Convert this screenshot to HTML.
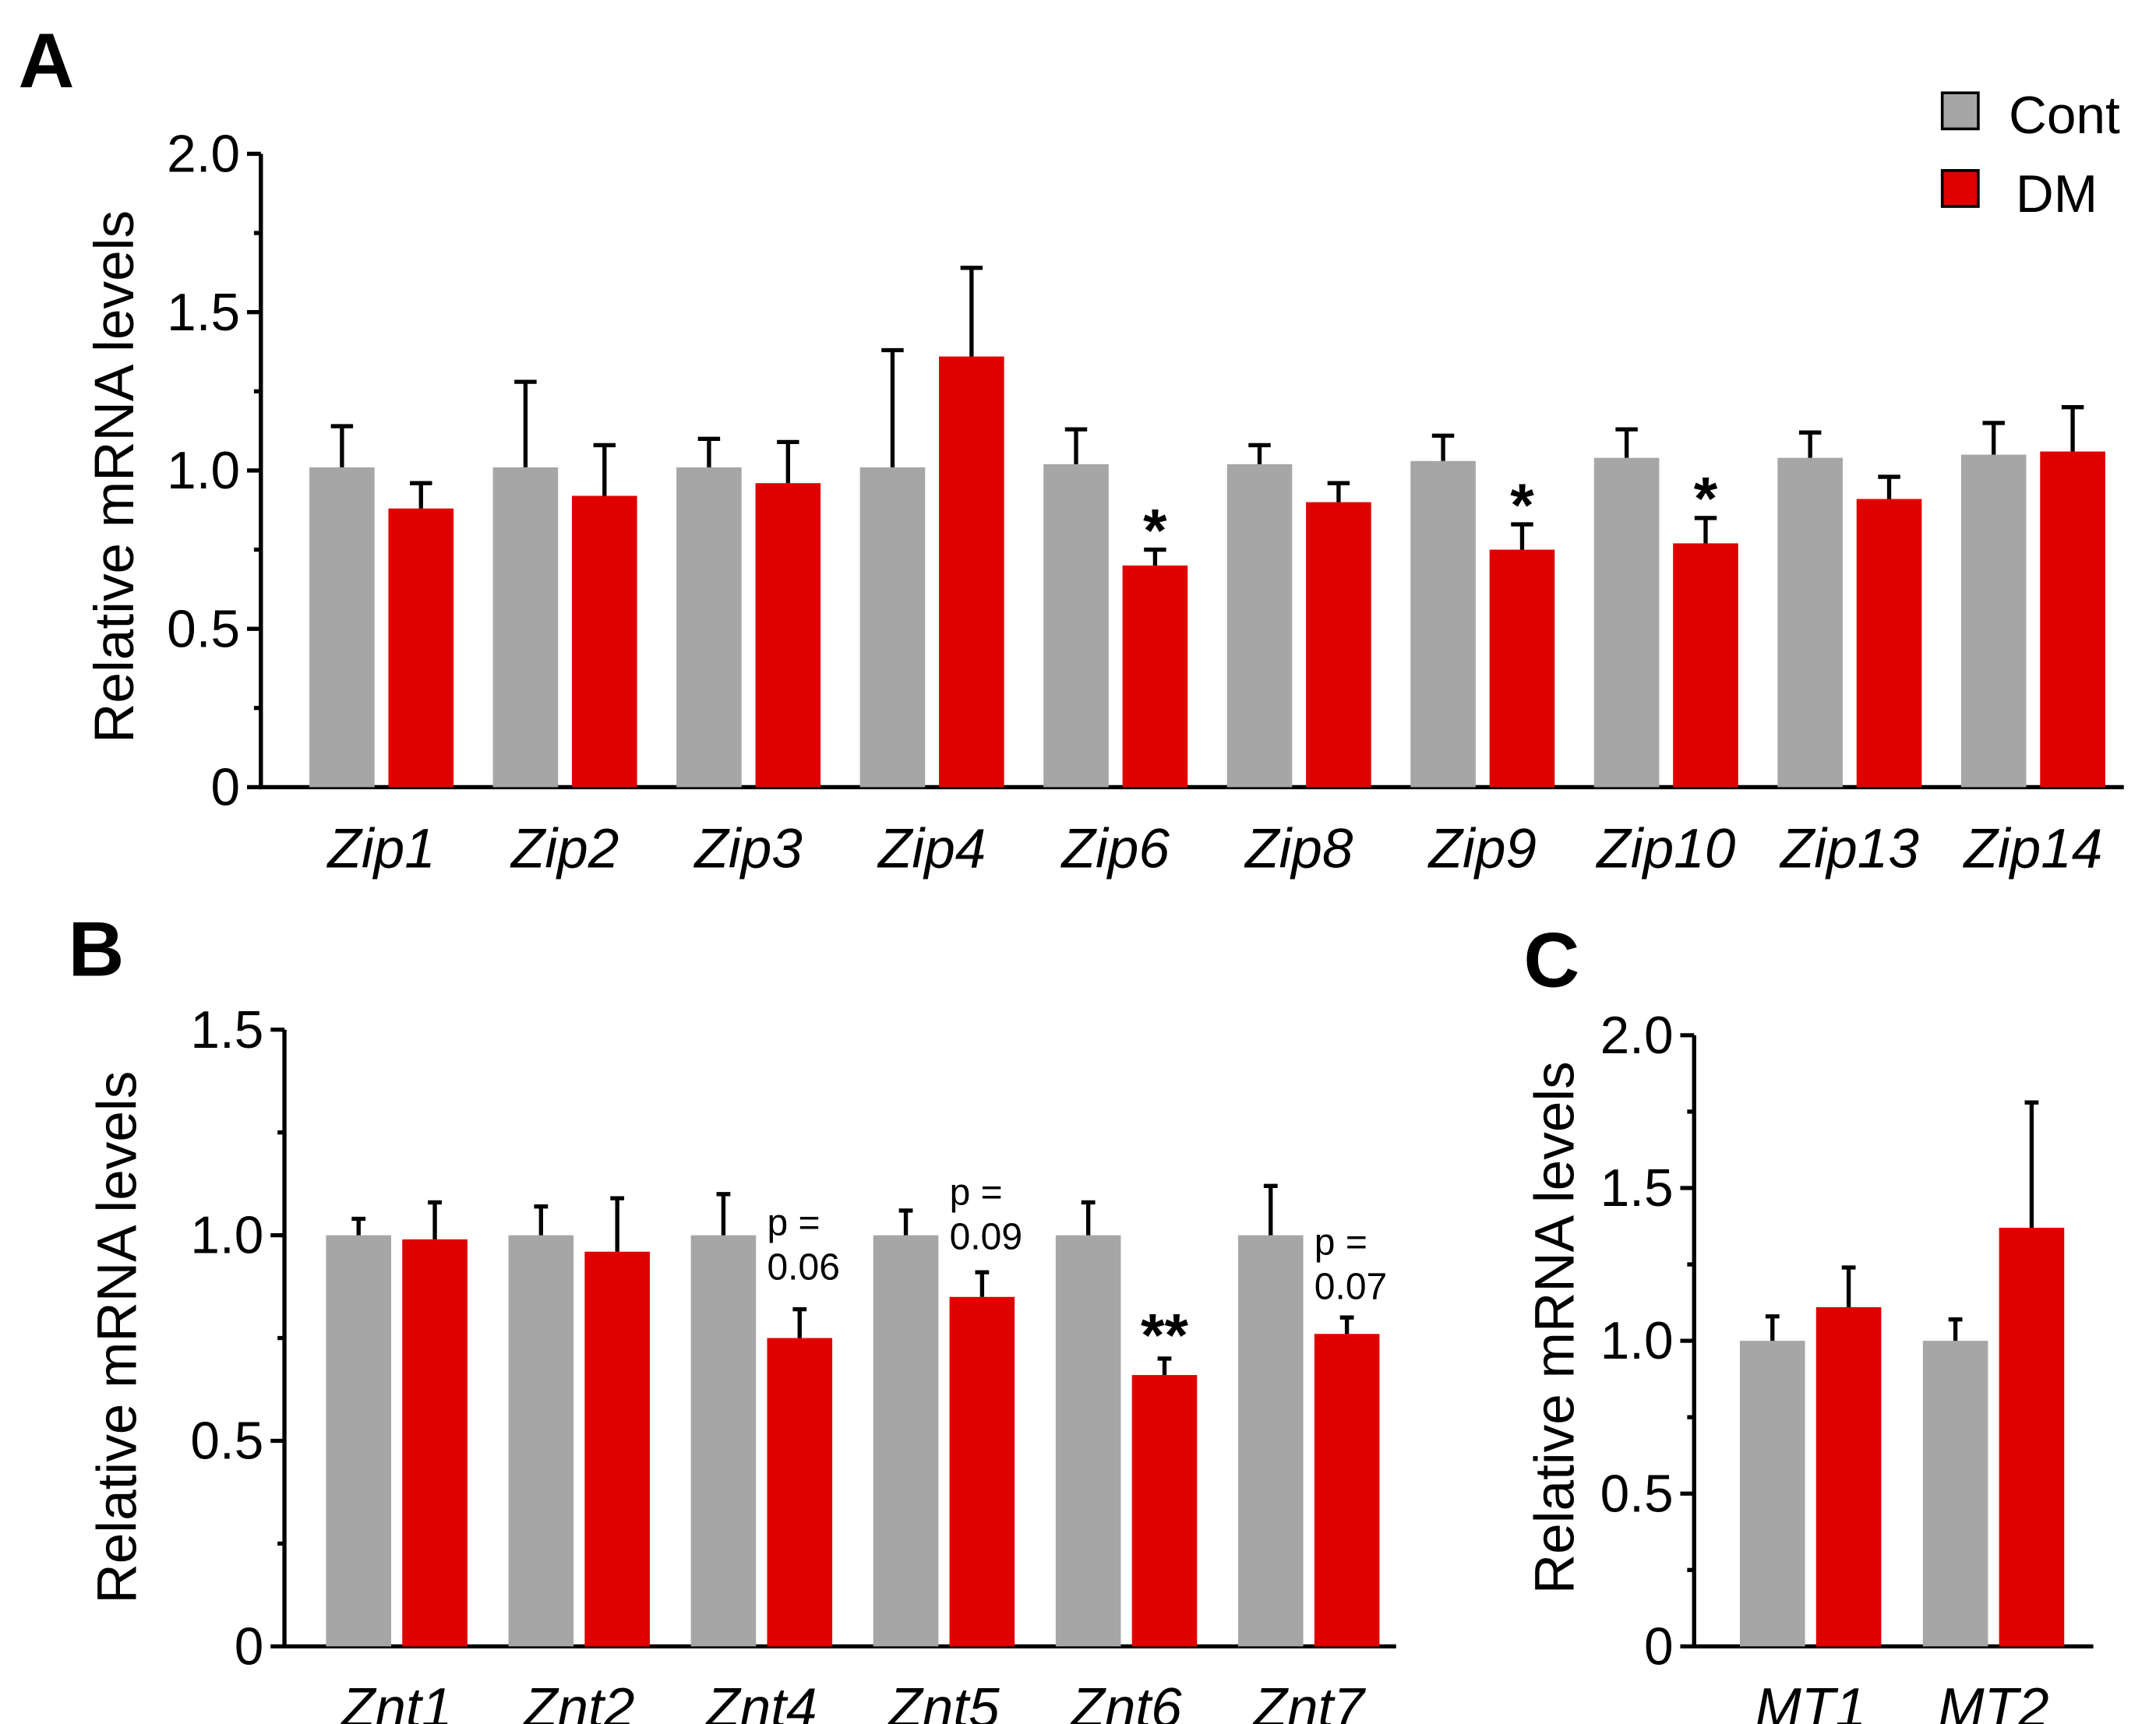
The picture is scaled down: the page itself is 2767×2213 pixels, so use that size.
<!DOCTYPE html>
<html><head><meta charset="utf-8"><style>
html,body{margin:0;padding:0;background:#fff}
svg{display:block}
text{font-family:"Liberation Sans",Arial,sans-serif;fill:#000}
</style></head><body>
<svg id="fig" width="2767" height="2213" viewBox="0 0 1555 1244" xmlns="http://www.w3.org/2000/svg">
<text x="13" y="63" font-size="56" font-weight="bold">A</text>
<text x="49" y="704" font-size="56" font-weight="bold">B</text>
<text x="1099" y="712" font-size="56" font-weight="bold">C</text>
<g>
<rect x="1401" y="67" width="26" height="26" fill="#a6a6a6" stroke="#000" stroke-width="2"/>
<text x="1449" y="96" font-size="38">Cont</text>
<rect x="1401" y="123" width="26" height="26" fill="#e00000" stroke="#000" stroke-width="2"/>
<text x="1454" y="153" font-size="38">DM</text>
</g>
</svg>
<script>
// Panel A data
const catsA = ["Zip1","Zip2","Zip3","Zip4","Zip6","Zip8","Zip9","Zip10","Zip13","Zip14"];
const contA = [1.01,1.01,1.01,1.01,1.02,1.02,1.03,1.04,1.04,1.05];
const contErrA = [0.13,0.27,0.09,0.37,0.11,0.06,0.08,0.09,0.08,0.10];
const dmA = [0.88,0.92,0.96,1.36,0.70,0.90,0.75,0.77,0.91,1.06];
const dmErrA = [0.08,0.16,0.13,0.28,0.05,0.06,0.08,0.08,0.07,0.14];
const sigA = ["","","","","*","","*","*","",""];
const ticksA = ["0","0.5","1.0","1.5","2.0"];
// Panel B data
const catsB = ["Znt1","Znt2","Znt4","Znt5","Znt6","Znt7"];
const contB = [1.0,1.0,1.0,1.0,1.0,1.0];
const contErrB = [0.04,0.07,0.10,0.06,0.08,0.12];
const dmB = [0.99,0.96,0.75,0.85,0.66,0.76];
const dmErrB = [0.09,0.13,0.07,0.06,0.04,0.04];
const sigB = ["","","","","**",""];
const pB = ["","","0.06","0.09","","0.07"];
const ticksB = ["0","0.5","1.0","1.5"];
// Panel C data
const catsC = ["MT1","MT2"];
const contC = [1.0,1.0];
const contErrC = [0.08,0.07];
const dmC = [1.11,1.37];
const dmErrC = [0.13,0.41];
const ticksC = ["0","0.5","1.0","1.5","2.0"];

const NS="http://www.w3.org/2000/svg";
const svg=document.getElementById('fig');
function mk(tag,attrs,parent){const e=document.createElementNS(NS,tag);for(const k in attrs)e.setAttribute(k,attrs[k]);(parent||svg).appendChild(e);return e;}
const pOffset={"0.06":0,"0.09":-22,"0.07":14};

function panel(p){
  const g=mk('g',{});
  
  
  const y=v=>p.y0-(v/p.ymax)*(p.y0-p.ytop);
  const ya=mk('line',{x1:p.ax,y1:p.ytop,x2:p.ax,y2:p.y0+1.5,stroke:'#000','stroke-width':3},g);
  
  
  const xa=mk('line',{x1:p.ax-1.5,y1:p.y0,x2:p.xend,y2:p.y0,stroke:'#000','stroke-width':3},g);
  
  
  const n=p.ticks.length-1;
  for(let i=0;i<=n*2;i++){
    const v=p.ymax*i/(n*2), yy=y(v), major=i%2===0;
    mk('line',{x1:p.ax-(major?10:5),y1:yy,x2:p.ax,y2:yy,stroke:'#000','stroke-width':3},g);
    if(major){
      const t=mk('text',{x:p.ax-15,y:yy+13,'font-size':38,'text-anchor':'end'},g);
      t.textContent=p.ticks[i/2];
      
      
    }
  }
  const yl=mk('text',{transform:`translate(${p.ylx},${p.yly}) rotate(-90)`,'font-size':40,'text-anchor':'middle'},g);
  yl.textContent='Relative mRNA levels';
  
  
  p.cats.forEach((c,i)=>{
    const gx=p.x0+i*p.step;
    [[p.cont,p.contErr,'#a6a6a6',gx,'cont'],[p.dm,p.dmErr,'#e00000',gx+p.bw+p.gap,'dm']].forEach(([vals,errs,col,bx,s])=>{
      const r=mk('rect',{x:bx,y:y(vals[i]),width:p.bw,height:p.y0-y(vals[i]),fill:col},g);
      
      
      const cx=bx+p.bw/2, top=y(vals[i]+errs[i]);
      mk('line',{x1:cx,y1:y(vals[i]),x2:cx,y2:top,stroke:'#000','stroke-width':3},g);
      const cap=mk('line',{x1:cx-p.cap,y1:top,x2:cx+p.cap,y2:top,stroke:'#000','stroke-width':3},g);
      
      
    });
    const lbl=mk('text',{x:gx+p.bw+p.gap/2,y:p.y0+58,'font-size':40,'font-style':'italic','text-anchor':'middle'},g);
    lbl.textContent=c;
    
    
    const dx=gx+p.bw+p.gap+p.bw/2, et=y(p.dm[i]+p.dmErr[i]);
    if(p.sig && p.sig[i]){
      const s=mk('text',{x:dx,y:et+(p.sig[i]==='**'?-2:1),'font-size':44,'font-weight':'bold','text-anchor':'middle'},g);
      s.textContent=p.sig[i];
      
      
    }
    if(p.pv && p.pv[i]){
      const lx=gx+p.bw+p.gap, ty=y(p.cont[i])+(pOffset[p.pv[i]]||0);
      const t1=mk('text',{x:lx,y:ty,'font-size':27},g);
      t1.textContent='p =';
      
      
      const t2=mk('text',{x:lx,y:ty+32,'font-size':27},g);
      t2.textContent=p.pv[i];
      
      
    }
  });
}
panel({id:'panel-a',cats:catsA,cont:contA,contErr:contErrA,dm:dmA,dmErr:dmErrA,sig:sigA,ticks:ticksA,
  ax:188,y0:568,ytop:111,ymax:2,xend:1532,x0:223,step:132.4,bw:47,gap:10,cap:8,ylx:96,yly:344});
panel({id:'panel-b',cats:catsB,cont:contB,contErr:contErrB,dm:dmB,dmErr:dmErrB,sig:sigB,pv:pB,ticks:ticksB,
  ax:205,y0:1188,ytop:743,ymax:1.5,xend:1007,x0:235,step:131.6,bw:47,gap:8,cap:5,ylx:98,yly:965});
panel({id:'panel-c',cats:catsC,cont:contC,contErr:contErrC,dm:dmC,dmErr:dmErrC,ticks:ticksC,
  ax:1222,y0:1188,ytop:747,ymax:2,xend:1510,x0:1255,step:132,bw:47,gap:8,cap:5,ylx:1135,yly:958});
</script>
</body></html>
